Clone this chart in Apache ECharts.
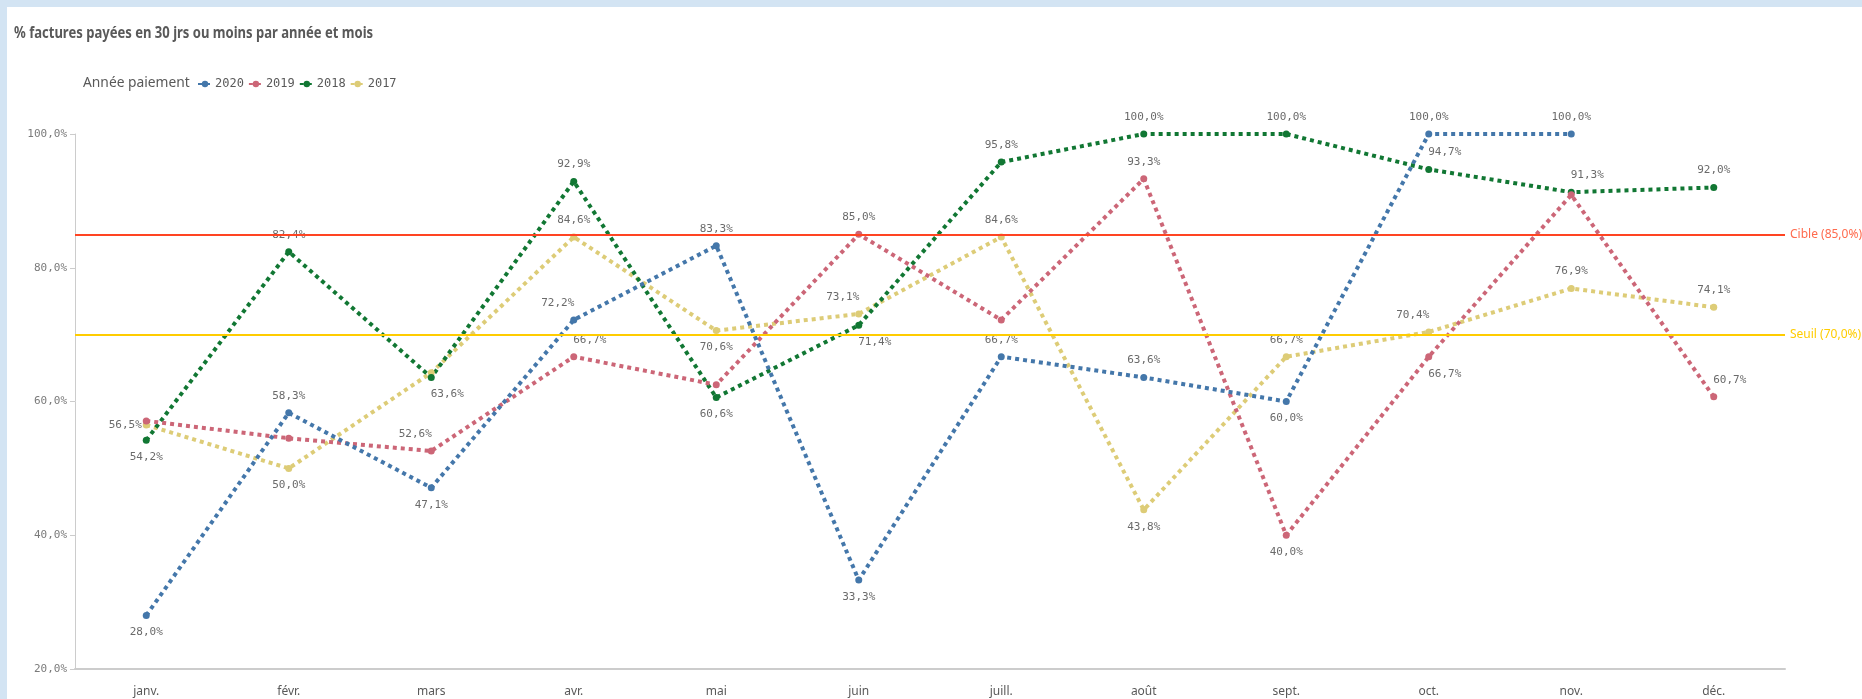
<!DOCTYPE html>
<html>
<head>
<meta charset="utf-8">
<script src="https://cdn.jsdelivr.net/npm/echarts@6/dist/echarts.min.js"></script>
<style>
  html, body { margin: 0; padding: 0; background: #d3e4f3; width: 1862px; height: 699px; overflow: hidden; }
  #chart { position: absolute; left: 7px; top: 7px; width: 1855px; height: 692px; background: #fff; }
</style>
</head>
<body>
<div id="chart"></div>
<script>
const months = ['janv.', 'févr.', 'mars', 'avr.', 'mai', 'juin', 'juill.', 'août', 'sept.', 'oct.', 'nov.', 'déc.']
const years = ['2020', '2019', '2018', '2017']

const y2020 = [28.0, 58.3, 47.1, 72.2, 83.3, 33.3, 66.7, 63.6, 60.0, 100.0, 100.0, null]
const y2019 = [57.1, 54.5, 52.6, 66.7, 62.5, 85.0, 72.2, 93.3, 40.0, 66.7, 90.9, 60.7]
const y2018 = [54.2, 82.4, 63.6, 92.9, 60.6, 71.4, 95.8, 100.0, 100.0, 94.7, 91.3, 92.0]
const y2017 = [56.5, 50.0, 64.3, 84.6, 70.6, 73.1, 84.6, 43.8, 66.7, 70.4, 76.9, 74.1]

const cible = 85.0
const seuil = 70.0

// where each value label sits (t top, b bottom, r/l suffix = nudged sideways, l alone = left, '' hidden)
const pos2020 = ['b', 't', 'b', 'tl', 't', 'b', 't', 't', 'b', 't', 't', '']
const pos2019 = ['', '', 'tl', 'tr', '', 't', '', 't', 'b', 'br', '', 'tr']
const pos2018 = ['b', 't', 'br', 't', 'b', 'br', 't', 't', 't', 'tr', 'tr', 't']
const pos2017 = ['l', 'b', '', 't', 'b', 'tl', 't', 'b', 't', 'tl', 't', 't']

const colors = ['#4477aa', '#cc6677', '#117733', '#ddcc77']
const mono = 'DejaVu Sans Mono'
const sans = '"Noto Sans", sans-serif'

const fmt = (v) => v.toFixed(1).replace('.', ',') + '%'

const labelFor = (code) => {
  if (!code) return { show: false }
  if (code === 'l') return { show: true, position: 'left', distance: 1 }
  return { show: true, distance: 8, position: code[0] === 't' ? 'top' : 'bottom' }
}
const nudge = (code) => (code && code.length === 2 ? (code[1] === 'r' ? 16 : -16) : 0)

const buildData = (values, positions) =>
  values.map((v, i) => (v == null ? null : { value: v, label: labelFor(positions[i]) }))

const makeSeries = (name, values, positions, color) => ({
  name,
  type: 'line',
  data: buildData(values, positions),
  symbol: 'circle',
  symbolSize: 7,
  itemStyle: { color },
  lineStyle: { color, width: 4, type: [4, 4], cap: 'butt' },
  label: {
    color: '#6a6a6a',
    fontFamily: mono,
    fontSize: 11,
    formatter: (p) => fmt(p.value)
  },
  labelLayout: (params) => ({ dx: nudge(positions[params.dataIndex]) }),
  z: 3
})

const chart = echarts.init(document.getElementById('chart'))
chart.setOption({
  animation: false,
  color: colors,
  graphic: [
    {
      type: 'text',
      x: 7,
      y: 18,
      scaleX: 0.815,
      style: {
        text: '% factures payées en 30 jrs ou moins par année et mois',
        fontFamily: sans, fontSize: 16, fontWeight: 'bold', fill: '#595959'
      }
    },
    {
      type: 'text',
      x: 76,
      y: 68,
      scaleX: 0.92,
      style: { text: 'Année paiement', fontFamily: sans, fontSize: 15, fill: '#595959' }
    }
  ],
  legend: {
    left: 185,
    top: 66,
    itemWidth: 14,
    itemHeight: 8,
    itemGap: 4,
    data: years,
    textStyle: { fontFamily: mono, fontSize: 12, color: '#595959', padding: [0, 0, 0, -2] }
  },
  grid: { left: 68, top: 127, right: 77, bottom: 30 },
  xAxis: {
    type: 'category',
    data: months,
    boundaryGap: true,
    axisLine: { lineStyle: { color: '#cccccc', width: 2 } },
    axisTick: { show: false },
    axisLabel: { color: '#595959', fontFamily: sans, fontSize: 12, margin: 17 }
  },
  yAxis: {
    type: 'value',
    min: 20,
    max: 100,
    interval: 20,
    axisLine: { show: true, lineStyle: { color: '#cccccc' } },
    axisTick: { show: true, length: 5, lineStyle: { color: '#cccccc' } },
    splitLine: { show: false },
    axisLabel: { color: '#7a7a7a', fontFamily: mono, fontSize: 11, margin: 8, formatter: fmt }
  },
  series: [
    {
      name: 'refs',
      type: 'line',
      data: [],
      z: 1,
      markLine: {
        silent: true,
        symbol: 'none',
        label: { position: 'end', distance: 5, fontFamily: sans, fontSize: 12 },
        data: [
          {
            yAxis: cible,
            lineStyle: { color: '#ff4422', width: 2, type: 'solid' },
            label: { formatter: 'Cible (' + fmt(cible) + ')', color: '#ff6a4d' }
          },
          {
            yAxis: seuil,
            lineStyle: { color: '#ffcc00', width: 2, type: 'solid' },
            label: { formatter: 'Seuil (' + fmt(seuil) + ')', color: '#ffcc00' }
          }
        ]
      }
    },
    makeSeries('2017', y2017, pos2017, colors[3]),
    makeSeries('2018', y2018, pos2018, colors[2]),
    makeSeries('2019', y2019, pos2019, colors[1]),
    makeSeries('2020', y2020, pos2020, colors[0])
  ]
})
</script>
</body>
</html>
